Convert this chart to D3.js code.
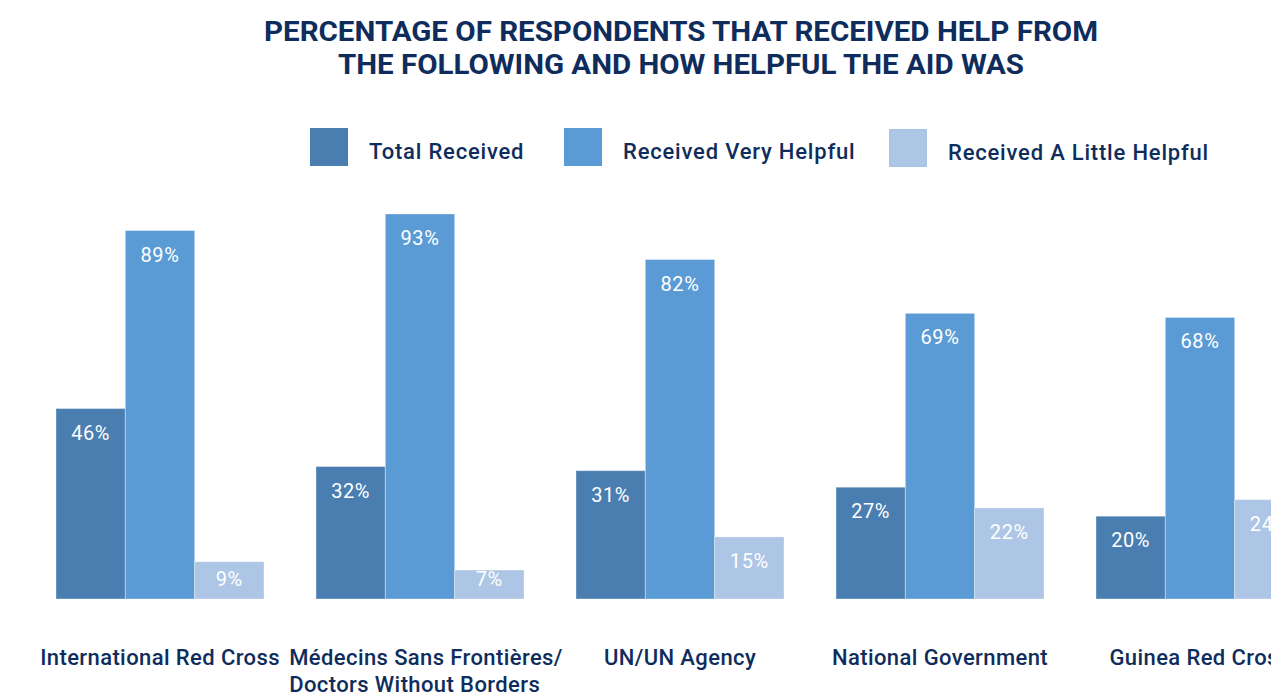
<!DOCTYPE html>
<html>
<head>
<meta charset="utf-8">
<script src="https://cdn.jsdelivr.net/npm/d3@7"></script>
<style>
  html, body { margin: 0; padding: 0; background: #fff; }
  svg { display: block; font-family: Roboto, "DejaVu Sans", sans-serif; }
</style>
</head>
<body>
<svg id="chart" width="1271" height="693"></svg>
<script>
const categories = [
  ["International Red Cross"],
  ["Médecins Sans Frontières/", "Doctors Without Borders"],
  ["UN/UN Agency"],
  ["National Government"],
  ["Guinea Red Cross"]
];
const seriesNames = ["Total Received", "Received Very Helpful", "Received A Little Helpful"];
const totalReceived = [46, 32, 31, 27, 20];
const veryHelpful = [89, 93, 82, 69, 68];
const littleHelpful = [9, 7, 15, 22, 24];
const colors = ["#4a7eb0", "#5b9bd5", "#adc6e5"];
const titleLines = ["PERCENTAGE OF RESPONDENTS THAT RECEIVED HELP FROM", "THE FOLLOWING AND HOW HELPFUL THE AID WAS"];

const seriesValues = [totalReceived, veryHelpful, littleHelpful];
const navy = "#0f2d5c";
const svg = d3.select("#chart");

// Title
svg.append("g").selectAll("text").data(titleLines).join("text")
  .attr("x", 681).attr("y", (d, i) => 41 + i * 33)
  .attr("text-anchor", "middle")
  .attr("fill", navy)
  .attr("font-size", 27).attr("font-weight", 700)
  .attr("textLength", (d, i) => i === 0 ? 834 : 686)
  .attr("lengthAdjust", "spacingAndGlyphs")
  .text(d => d);

// Legend
const legendX = [310, 564, 889];
const legendY = [128, 128, 129];
const lg = svg.append("g").selectAll("g").data(seriesNames).join("g")
  .attr("transform", (d, i) => `translate(${legendX[i]},${legendY[i]})`);
lg.append("rect").attr("width", 38).attr("height", 38).attr("fill", (d, i) => colors[i]);
lg.append("text").attr("x", 59).attr("y", 31)
  .attr("fill", navy).attr("font-size", 22).attr("font-weight", 500)
  .attr("letter-spacing", 0.8)
  .text(d => d);

// Scales
const x0 = d3.scaleBand().domain(d3.range(categories.length))
  .range([30, 1330]).paddingInner(0.2).paddingOuter(0.1);
const x1 = d3.scaleBand().domain(d3.range(seriesNames.length))
  .range([0, x0.bandwidth()]).padding(0);
const y = d3.scaleLinear().domain([0, 100]).range([599, 185]);

const groups = svg.append("g").selectAll("g").data(categories).join("g")
  .attr("transform", (d, i) => `translate(${x0(i)},0)`);

const bars = groups.selectAll("g.bar").data((d, i) => seriesValues.map((s, j) => ({ v: s[i], j })))
  .join("g").attr("class", "bar");
bars.append("rect")
  .attr("x", d => x1(d.j))
  .attr("y", d => y(d.v))
  .attr("width", x1.bandwidth())
  .attr("height", d => y(0) - y(d.v))
  .attr("fill", d => colors[d.j])
  .attr("stroke", "rgba(255,255,255,0.35)").attr("stroke-width", 1);
bars.append("text")
  .attr("x", d => x1(d.j) + x1.bandwidth() / 2)
  .attr("y", d => Math.min(y(d.v) + 24, 579) + 7)
  .attr("text-anchor", "middle")
  .attr("fill", "#fff").attr("font-size", 20)
  .attr("letter-spacing", 0.6)
  .text(d => d.v + "%");

// Category labels
groups.each(function (lines, i) {
  const g = d3.select(this);
  const t = g.append("text")
    .attr("fill", navy).attr("font-size", 22).attr("font-weight", 500)
    .attr("letter-spacing", 0.4);
  t.selectAll("tspan").data(lines).join("tspan")
    .attr("dy", (d, k) => k === 0 ? 0 : 27)
    .text(d => d);
  const w = d3.max(t.selectAll("tspan").nodes(), n => n.getComputedTextLength());
  const left = x0.bandwidth() / 2 - w / 2 + (lines.length > 1 ? 6 : 0);
  t.attr("y", 665);
  t.selectAll("tspan").attr("x", left);
});
</script>
</body>
</html>
